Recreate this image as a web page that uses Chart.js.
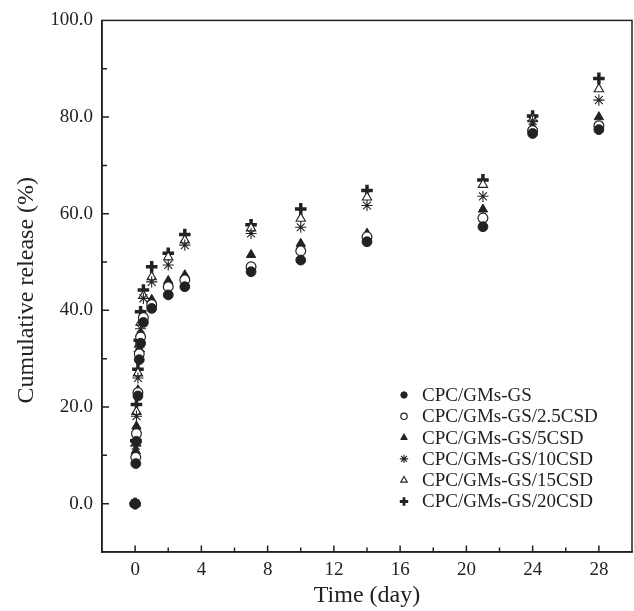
<!DOCTYPE html>
<html>
<head>
<meta charset="utf-8">
<script src="https://cdn.jsdelivr.net/npm/chart.js@4.4.1/dist/chart.umd.min.js"></script>
<style>
    html, body { margin: 0; padding: 0; background: #fff; }
    #wrap { width: 634px; height: 611px; }
</style>
</head>
<body>
<div id="wrap"><canvas id="releaseChart" width="634" height="611"></canvas></div>
<script>
// data
const times = [0, 0.04, 0.08, 0.17, 0.25, 0.33, 0.5, 1, 2, 3, 7, 10, 14, 21, 24, 28];
const gs    = [0, 8.3, 12.9, 22.3, 29.8, 33.2, 37.5, 40.4, 43.2, 44.9, 48.0, 50.4, 54.2, 57.3, 76.6, 77.4];
const gs25  = [0, 9.6, 14.5, 23.0, 31.0, 34.5, 38.5, 41.2, 44.9, 46.3, 49.0, 52.3, 55.2, 59.1, 77.2, 78.2];
const gs5   = [0, 10.9, 16.0, 23.5, 32.0, 35.2, 39.0, 42.2, 46.1, 47.3, 51.5, 53.8, 55.9, 60.9, 78.0, 80.0];
const gs10  = [0, 12.0, 18.1, 26.0, 31.5, 36.2, 42.5, 45.9, 49.4, 53.5, 55.9, 57.2, 61.7, 63.6, 79.2, 83.5];
const gs15  = [0, 12.5, 19.0, 27.0, 33.0, 37.5, 43.0, 46.9, 51.0, 54.5, 57.0, 59.0, 63.4, 66.0, 79.6, 85.8];
const gs20  = [0, 13.0, 20.5, 27.8, 33.8, 39.7, 44.2, 49.0, 51.8, 55.7, 57.7, 61.0, 64.8, 67.0, 80.2, 88.0];

const labels = ['CPC/GMs-GS', 'CPC/GMs-GS/2.5CSD', 'CPC/GMs-GS/5CSD',
                'CPC/GMs-GS/10CSD', 'CPC/GMs-GS/15CSD', 'CPC/GMs-GS/20CSD'];
const xTitle = 'Time (day)';
const yTitle = 'Cumulative release (%)';
const xMin = -2, xMax = 30, yMin = -10, yMax = 100;

const ink = '#222';
const serif = '"Liberation Serif", "DejaVu Serif", serif';

const toPoints = (vals) => vals.map((v, i) => ({x: times[i], y: v}));

// marker looks: style, radius, fill, border width, legend radius
const looks = [
    {style: 'circle',   r: 4.9, fill: ink,    bw: 1,   lr: 3.2},
    {style: 'circle',   r: 4.9, fill: '#fff', bw: 1.2, lr: 3.2},
    {style: 'triangle', r: 5.4, fill: ink,    bw: 1,   lr: 3.8},
    {style: 'star',     r: 5.6, fill: ink,    bw: 1.1, lr: 4.2},
    {style: 'triangle', r: 5.4, fill: '#fff', bw: 1.1, lr: 3.8},
    {style: 'cross',    r: 5.8, fill: ink,    bw: 3.5, lr: 4.2}
];

const series = [gs, gs25, gs5, gs10, gs15, gs20];
const datasets = series.map((vals, i) => ({
    label: labels[i],
    data: toPoints(vals),
    showLine: false,
    pointStyle: looks[i].style,
    pointRadius: looks[i].r,
    pointBackgroundColor: looks[i].fill,
    pointBorderColor: ink,
    pointBorderWidth: looks[i].bw,
    order: i
}));

// frame, inward ticks, titles and legend
const framePlugin = {
    id: 'frame',
    beforeDatasetsDraw(chart) {
        const {ctx, chartArea: a, scales: {x, y}} = chart;
        ctx.save();
        ctx.strokeStyle = ink;
        ctx.lineWidth = 1.5;
        ctx.strokeRect(a.left, a.top, a.right - a.left, a.bottom - a.top);
        ctx.beginPath();
        for (let t = xMin + 2; t < xMax; t += 2) {
            const px = x.getPixelForValue(t);
            const len = t % 4 === 0 ? 6.5 : 4.5;
            ctx.moveTo(px, a.bottom);
            ctx.lineTo(px, a.bottom - len);
        }
        for (let v = yMin + 10; v < yMax; v += 10) {
            const py = y.getPixelForValue(v);
            const len = v % 20 === 0 ? 7 : 5;
            ctx.moveTo(a.left, py);
            ctx.lineTo(a.left + len, py);
        }
        ctx.stroke();
        ctx.restore();
    },
    afterDraw(chart) {
        const {ctx, chartArea: a} = chart;
        ctx.save();
        ctx.fillStyle = ink;
        ctx.font = '24px ' + serif;
        ctx.textAlign = 'center';
        ctx.textBaseline = 'middle';
        ctx.fillText(xTitle, (a.left + a.right) / 2, 596);
        ctx.translate(27, (a.top + a.bottom) / 2 + 4);
        ctx.rotate(-Math.PI / 2);
        ctx.fillText(yTitle, 0, 0);
        ctx.restore();

        // legend
        ctx.save();
        ctx.font = '19px ' + serif;
        ctx.textAlign = 'left';
        ctx.textBaseline = 'middle';
        chart.data.datasets.forEach((ds, i) => {
            const yy = 395 + i * 21.3;
            ctx.fillStyle = looks[i].fill;
            ctx.strokeStyle = ink;
            const bw = looks[i].style === 'cross' ? 2.8 : looks[i].bw;
            ctx.lineWidth = bw;
            Chart.helpers.drawPoint(ctx, {
                pointStyle: looks[i].style,
                radius: looks[i].lr,
                rotation: 0,
                borderWidth: bw
            }, 404, yy);
            ctx.fillStyle = ink;
            ctx.fillText(ds.label, 422, yy + 1);
        });
        ctx.restore();
    }
};

const ctx = document.getElementById('releaseChart').getContext('2d');
new Chart(ctx, {
    type: 'scatter',
    data: {datasets: datasets},
    options: {
        responsive: false,
        animation: false,
        layout: {autoPadding: false, padding: {left: 0, right: 2, top: 18, bottom: 0}},
        plugins: {
            legend: {display: false},
            tooltip: {enabled: false}
        },
        scales: {
            x: {
                type: 'linear',
                min: xMin,
                max: xMax,
                afterFit: (s) => { s.height = 59; s.paddingLeft = 0; s.paddingRight = 0; },
                grid: {display: false, drawTicks: false},
                border: {display: true, color: ink, width: 1.5},
                ticks: {
                    stepSize: 2,
                    padding: 7,
                    color: ink,
                    font: {family: serif, size: 19},
                    maxRotation: 0,
                    autoSkip: false,
                    callback: (v) => (v >= 0 && v <= 28 && v % 4 === 0) ? String(v) : ''
                }
            },
            y: {
                type: 'linear',
                min: yMin,
                max: yMax,
                afterFit: (s) => { s.width = 102; },
                grid: {display: false, drawTicks: false},
                border: {display: true, color: ink, width: 1.5},
                ticks: {
                    stepSize: 10,
                    padding: 9,
                    color: ink,
                    font: {family: serif, size: 19},
                    autoSkip: false,
                    callback: (v) => (v % 20 === 0) ? v.toFixed(1) : ''
                }
            }
        }
    },
    plugins: [framePlugin]
});
</script>
</body>
</html>
